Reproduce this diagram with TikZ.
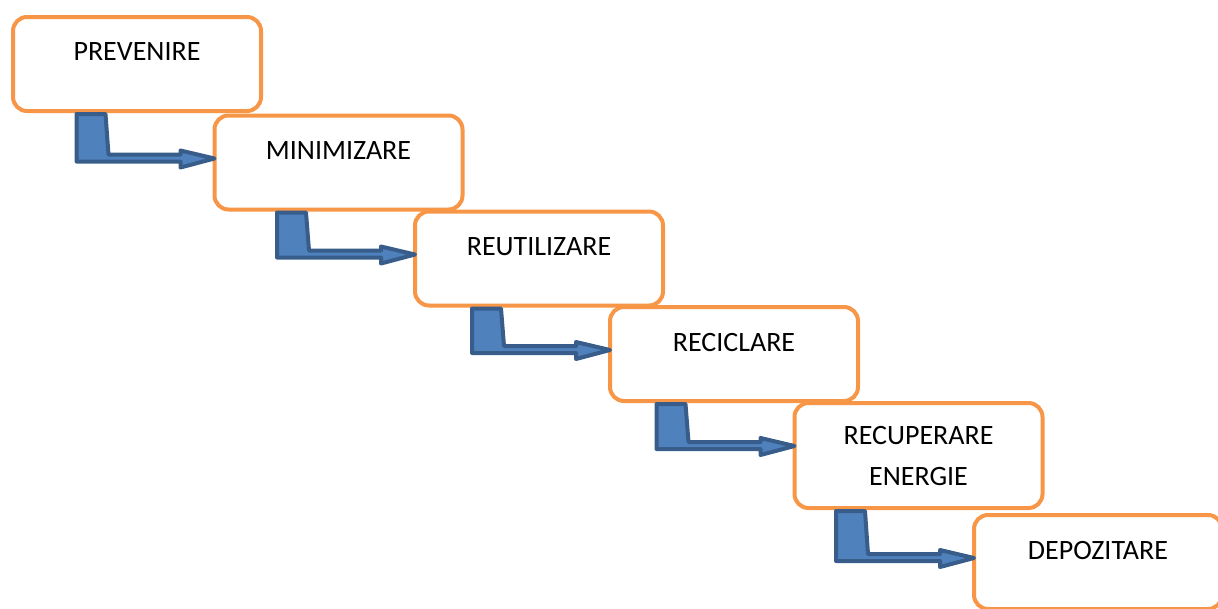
\documentclass[tikz,border=0pt]{standalone}
\usepackage{fontspec}
\setmainfont{Carlito}
\usetikzlibrary{calc}
\definecolor{boxorange}{HTML}{F79646}
\definecolor{arrowfill}{HTML}{4F81BD}
\definecolor{arrowline}{HTML}{385D8A}
\tikzset{
  stairbox/.style={draw=boxorange, line width=4pt, fill=white, rounded corners=14pt,
    minimum width=248pt, minimum height=94pt, outer sep=0pt, inner sep=0pt,
    text depth=24pt, align=center, font=\fontsize{28}{41}\selectfont},
  stairarrow/.style={draw=arrowline, fill=arrowfill, line width=4pt, line join=round}
}
\begin{document}
\begin{tikzpicture}[x=1pt,y=-1pt]
  \useasboundingbox (0,0) rectangle (1218,608);
  \clip (0,0) rectangle (1218,608);
  \node[stairbox] (prev) at (137,64) {PREVENIRE};
  \node[stairbox] (mini) at (338.5,162.5) {MINIMIZARE};
  \node[stairbox] (reut) at (539,258.5) {REUTILIZARE};
  \node[stairbox] (recic) at (734,354) {RECICLARE};
  \node[stairbox,minimum height=105pt,text depth=0pt] (recup) at (918.5,455.5) {RECUPERARE\\ENERGIE};
  \node[stairbox] (depoz) at (1098,562) {DEPOZITARE};
  \foreach \a/\b in {prev/mini,mini/reut,reut/recic,recic/recup,recup/depoz}{
    \coordinate (t) at ($(\b.north west)+(0,43)$);
    \coordinate (s) at ($(t |- \a.south)+(-138,3)$);
    \draw[stairarrow] (s) -- ++(29,0) -- ($(t)+(-106,-4)$) -- ($(t)+(-34,-4)$)
      -- ($(t)+(-34,-8)$) -- (t) -- ($(t)+(-34,9)$) -- ($(t)+(-34,3)$)
      -- ($(t)+(-138,3)$) -- cycle;
  }
\end{tikzpicture}
\end{document}
